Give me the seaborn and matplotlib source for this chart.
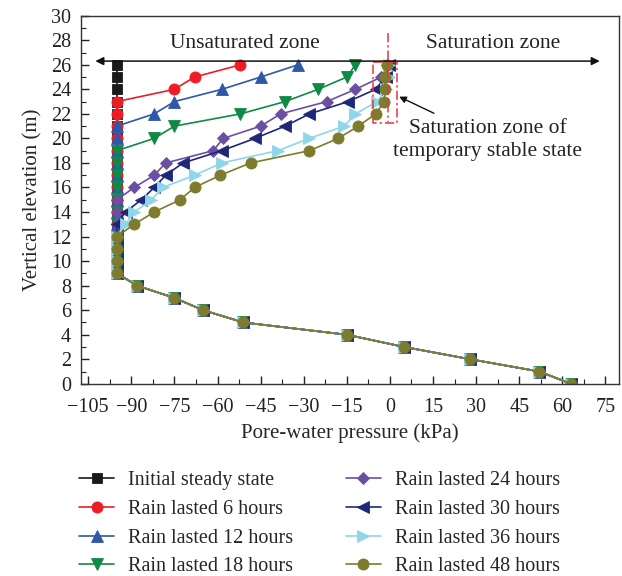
import matplotlib
matplotlib.use("Agg")
import matplotlib.pyplot as plt
from matplotlib.ticker import MultipleLocator
import seaborn as sns
import pandas as pd

# ---------------- data ----------------
elevation = list(range(0, 27))

initial = [63, 52, 28, 5, -15, -51, -65, -75, -88,
           -95, -95, -95, -95, -95, -95, -95, -95, -95,
           -95, -95, -95, -95, -95, -95, -95, -95, -95]
rain6 = [63, 52, 28, 5, -15, -51, -65, -75, -88,
         -95, -95, -95, -95, -95, -95, -95, -95, -95,
         -95, -95, -95, -95, -95, -95, -75, -68, -52]
rain12 = [63, 52, 28, 5, -15, -51, -65, -75, -88,
          -95, -95, -95, -95, -95, -95, -95, -95, -95,
          -95, -95, -95, -95, -82, -75, -58.5, -45, -32]
rain18 = [63, 52, 28, 5, -15, -51, -65, -75, -88,
          -95, -95, -95, -95, -95, -95, -95, -95, -95,
          -95, -95, -82, -75, -52, -36.5, -25, -15, -12]
rain24 = [63, 52, 28, 5, -15, -51, -65, -75, -88,
          -95, -95, -95, -95, -95, -95, -95, -89, -82,
          -78, -61.5, -58, -45, -38, -22, -12, -3, -1]
rain30 = [63, 52, 28, 5, -15, -51, -65, -75, -88,
          -95, -95, -95, -95, -95, -92, -86.5, -82, -78,
          -72, -58.5, -47, -36.5, -28, -14.5, -5, -1.5, -0.5]
rain36 = [63, 52, 28, 5, -15, -51, -65, -75, -88,
          -95, -95, -95, -95, -92, -89, -83, -79, -68,
          -58.5, -39, -28, -16, -12, -4.5, -1.5, -0.5, -0.5]
rain48 = [63, 52, 28, 5, -15, -51, -65, -75, -88,
          -95, -95, -95, -95, -89, -82, -73, -68, -59,
          -48.5, -28, -18, -11, -5, -2, -1.7, -1.7, -1]

labels = ["Initial steady state", "Rain lasted 6 hours", "Rain lasted 12 hours",
          "Rain lasted 18 hours", "Rain lasted 24 hours", "Rain lasted 30 hours",
          "Rain lasted 36 hours", "Rain lasted 48 hours"]
series = [initial, rain6, rain12, rain18, rain24, rain30, rain36, rain48]
colors = ["#1a1a1a", "#ee1d25", "#2f58a8", "#0f8a45",
          "#6b4fa3", "#1f2878", "#8fd6ea", "#7d7c2e"]
markers = ["s", "o", "^", "v", "D", "<", ">", "o"]
msizes = [6.5, 8, 8.5, 8.5, 6.5, 8.5, 8.5, 8]

# ---------------- style ----------------
sns.set_theme(style="ticks")
plt.rcParams["font.family"] = ["Liberation Serif", "DejaVu Serif"]

fig = plt.figure(figsize=(6.22, 5.76), dpi=100)
ax = fig.add_axes([80.7 / 622, 1 - 383.8 / 576, (619 - 80.7) / 622, (383.8 - 15.7) / 576])

for lab, vals, c, m, ms in zip(labels, series, colors, markers, msizes):
    df = pd.DataFrame({"pressure": vals, "elevation": elevation})
    sns.lineplot(data=df, x="pressure", y="elevation", sort=False, estimator=None,
                 color=c, marker=m, markersize=ms, markeredgecolor=c,
                 markeredgewidth=0.6, linewidth=1.2, label=lab, ax=ax, legend=False)

ax.set_xlim(-107.6, 79.7)
ax.set_ylim(0, 30)
ax.xaxis.set_major_locator(MultipleLocator(15))
ax.xaxis.set_minor_locator(MultipleLocator(7.5))
ax.yaxis.set_major_locator(MultipleLocator(2))
ax.yaxis.set_minor_locator(MultipleLocator(1))
ax.tick_params(which="both", direction="in", top=False, right=False,
               colors="#222222", labelsize=14.5)
ax.tick_params(which="major", length=6, width=1)
ax.tick_params(which="minor", length=3.5, width=0.8)
ax.tick_params(axis="x", pad=10)
ax.tick_params(axis="y", pad=7)
for s in ax.spines.values():
    s.set_visible(True)
    s.set_color("#333333")
    s.set_linewidth(1.0)

ax.set_xlabel("Pore-water pressure (kPa)", fontsize=15, labelpad=5)
ax.set_ylabel("Vertical elevation (m)", fontsize=15, labelpad=6)

# ---------------- annotations ----------------
ax.annotate("", xy=(-102.5, 26.3), xytext=(73.0, 26.3),
            arrowprops=dict(arrowstyle="<|-|>", color="#111111", lw=1.1,
                            mutation_scale=12, shrinkA=0, shrinkB=0))
ax.text(-50.6, 27.7, "Unsaturated zone", ha="center", va="center", fontsize=15.5,
        color="#222222")
ax.text(35.8, 27.7, "Saturation zone", ha="center", va="center", fontsize=15.5,
        color="#222222")
ax.text(34.0, 19.85, "Saturation zone of\ntemporary stable state", ha="center",
        va="center", fontsize=15.5, color="#222222", linespacing=1.25)

red_dash = dict(color="#ee3340", lw=1.1, linestyle=(0, (6, 2, 1.5, 2)))
ax.plot([-6.0, 2.3, 2.3, -6.0, -6.0], [26.2, 26.2, 21.25, 21.25, 26.2], **red_dash)
ax.plot([-0.6, -0.6], [28.6, 21.3], **red_dash)

ax.annotate("", xy=(3.2, 23.4), xytext=(15.3, 22.05),
            arrowprops=dict(arrowstyle="-|>", color="#111111", lw=1.0,
                            mutation_scale=10, shrinkA=0, shrinkB=0))

# ---------------- legend ----------------
handles, labs = ax.get_legend_handles_labels()
fig.legend(handles, labs, ncol=2, loc="upper left",
           bbox_to_anchor=(79 / 622, 1 - 471 / 576), frameon=False,
           fontsize=14.5, handlelength=1.75, handletextpad=0.7,
           columnspacing=2.6, labelspacing=0.48, borderpad=0, borderaxespad=0)

fig.savefig("out.png", dpi=100)
